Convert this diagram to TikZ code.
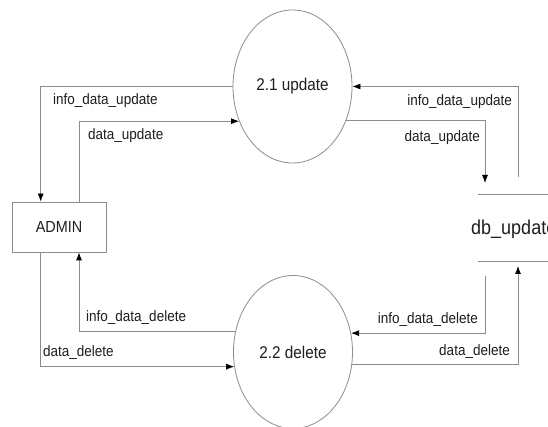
\documentclass[tikz,border=0pt]{standalone}
\usepackage{fontspec}
\setmainfont{Liberation Sans}[FakeStretch=0.9]
\usetikzlibrary{shapes.geometric,arrows.meta}
\definecolor{linegray}{HTML}{8C8C8C}
\definecolor{txt}{HTML}{1E1E1E}
\tikzset{
  proc/.style={ellipse,draw=linegray,line width=0.8pt,minimum width=119pt,minimum height=153pt,inner sep=0pt,text=txt,font=\fontsize{17}{20}\selectfont},
  ext/.style={rectangle,draw=linegray,line width=0.8pt,minimum width=94pt,minimum height=50pt,inner sep=0pt,text=txt,font=\fontsize{16}{19}\selectfont},
  flow/.style={draw=linegray,line width=0.8pt,-{Latex[length=8pt,width=6pt,color=black]}},
  plain/.style={draw=linegray,line width=0.8pt},
  lbl/.style={inner sep=0pt,text=txt,font=\fontsize{15}{18}\selectfont},
  storetext/.style={inner sep=0pt,text=txt,font=\fontsize{20}{24}\selectfont,anchor=west}
}
\begin{document}
\begin{tikzpicture}[x=1pt,y=1pt]
\useasboundingbox (0,0) rectangle (548,427);
\clip (0,0) rectangle (548,427);
\fill[white] (0,0) rectangle (548,427);
% nodes
\node[proc] (c1) at (292.5,340.5) {2.1 update};
\node[proc] (c2) at (293,75) {2.2 delete};
\node[ext] (admin) at (59,200) {ADMIN};
% data store
\coordinate (dbtl) at (478,233);
\coordinate (dbtr) at (560,233);
\coordinate (dbbl) at (478,166);
\coordinate (dbbr) at (560,166);
\draw[plain] (dbtl) -- (dbtr);
\draw[plain] (dbbl) -- (dbbr);
\node[storetext] (db) at (471,198) {db\_update};
% free ends at the store
\coordinate (d1) at (518,250);
\coordinate (d2) at (485,244);
\coordinate (d3) at (485,151);
\coordinate (d4) at (518,161);
% connectors
\draw[flow] (c1.180) -| ([xshift=-18.3pt]admin.north);
\draw[flow] ([xshift=20pt]admin.north) |- (c1.213);
\draw[flow] (d1) |- (c1.0);
\draw[flow] (c1.-32) -| (d2);
\draw[flow] (d3) |- (c2.18);
\draw[flow] (c2.-12.5) -| (d4);
\draw[flow] (c2.160) -| ([xshift=20pt]admin.south);
\draw[flow] ([xshift=-18.3pt]admin.south) |- (c2.194);
% labels
\node[lbl,anchor=west] (l1) at (53,326) {info\_data\_update};
\node[lbl,anchor=west] (l2) at (88,291) {data\_update};
\node[lbl,anchor=east] (l3) at (512,325) {info\_data\_update};
\node[lbl,anchor=east] (l4) at (480,289) {data\_update};
\node[lbl,anchor=east] (l5) at (478,107) {info\_data\_delete};
\node[lbl,anchor=east] (l6) at (510,75) {data\_delete};
\node[lbl,anchor=west] (l7) at (86,109) {info\_data\_delete};
\node[lbl,anchor=west] (l8) at (43,74) {data\_delete};
\end{tikzpicture}
\end{document}
